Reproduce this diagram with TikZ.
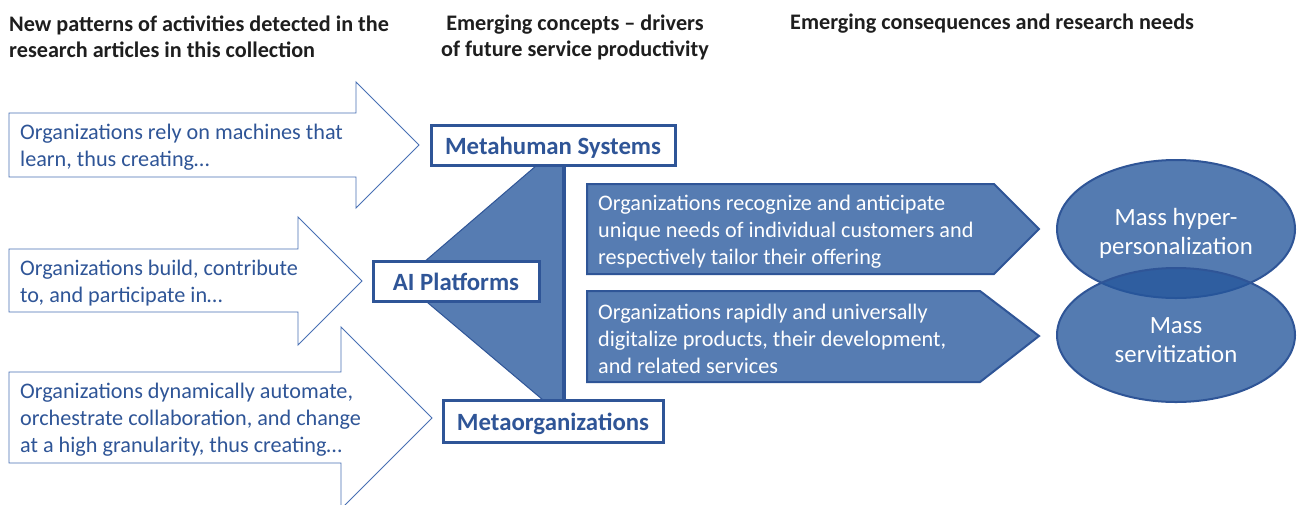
\documentclass[tikz,border=0pt]{standalone}
\usepackage{fontspec}
\setmainfont{Carlito}
\usetikzlibrary{shapes.geometric}
\definecolor{dblue}{RGB}{47,85,151}
\definecolor{lblue}{RGB}{72,112,180}
\definecolor{mblue}{RGB}{86,124,178}
\definecolor{eblue}{RGB}{37,86,156}
\definecolor{headgray}{RGB}{30,30,30}
\tikzset{
  headtxt/.style={font=\fontsize{22.2}{26}\selectfont\bfseries, text=headgray, inner sep=0pt},
  arrowshape/.style={draw=lblue, line width=0.9pt, fill=white},
  arrowtxt/.style={font=\fontsize{22.2}{27}\selectfont, text=dblue, align=left, anchor=west, inner sep=0pt},
  conceptbox/.style={draw=dblue, line width=3pt, fill=white, text=dblue, font=\fontsize{24.8}{28}\selectfont\bfseries, minimum height=40pt, inner sep=0pt, text height=18pt, text depth=0pt},
  blueshape/.style={draw=dblue, line width=2pt, fill=mblue},
  bluetxt/.style={font=\fontsize{22.2}{27}\selectfont, text=white, align=left, anchor=west, inner sep=0pt},
  outcome/.style={ellipse, draw=dblue, line width=2pt, fill=eblue, fill opacity=0.78, minimum width=238pt, inner sep=0pt},
  outcometxt/.style={text=white, font=\fontsize{24.8}{29}\selectfont, align=center, inner sep=0pt},
}
\begin{document}
\begin{tikzpicture}[x=1pt,y=-1pt]
\useasboundingbox (0,0) rectangle (1297,504);
\clip (0,0) rectangle (1297,504);
\fill[white] (0,0) rectangle (1297,504);

% headings
\node[headtxt, anchor=west, align=left] (h1) at (9,37) {New patterns of activities detected in the\\research articles in this collection};
\node[headtxt, align=center] (h2) at (575,37) {Emerging concepts -- drivers\\of future service productivity};
\node[headtxt, anchor=west] (h3) at (790,24) {Emerging consequences and research needs};

% left arrows
\draw[arrowshape] (9,113) -- (356,113) -- (356,82) -- (419,145) -- (356,208) -- (356,177) -- (9,177) -- cycle;
\draw[arrowshape] (9,249) -- (298,249) -- (298,217) -- (362,281) -- (298,345) -- (298,312) -- (9,312) -- cycle;
\draw[arrowshape] (9,372) -- (341,372) -- (341,327) -- (432,418) -- (341,509) -- (341,463) -- (9,463) -- cycle;
\node[arrowtxt] (a1) at (20,147) {Organizations rely on machines that\\learn, thus creating\dots};
\node[arrowtxt] (a2) at (20,283) {Organizations build, contribute\\to, and participate in\dots};
\node[arrowtxt] (a3) at (20,420) {Organizations dynamically automate,\\orchestrate collaboration, and change\\at a high granularity, thus creating\dots};

% central triangle
\filldraw[draw=dblue, line width=1pt, fill=mblue] (537,165) -- (564,165) -- (564,400) -- (543,400) -- (402,281) -- cycle;
\coordinate (vtop) at (564,165);
\coordinate (vbot) at (564,400);
\draw[dblue, line width=4pt] (vtop) -- (vbot);

% concept boxes
\node[conceptbox, minimum width=244pt] (meta) at (553,145) {Metahuman Systems};
\node[conceptbox, minimum width=166pt] (ai) at (456,281) {AI Platforms};
\node[conceptbox, minimum width=220pt, minimum height=42pt] (metaorg) at (553,421) {Metaorganizations};

% blue pentagons
\draw[blueshape] (587,184) -- (994,184) -- (1039,229) -- (994,274) -- (587,274) -- cycle;
\draw[blueshape] (587,291) -- (980,291) -- (1039,336) -- (980,382) -- (587,382) -- cycle;
\node[bluetxt] (p1) at (598,232) {Organizations recognize and anticipate\\unique needs of individual customers and\\respectively tailor their offering};
\node[bluetxt] (p2) at (598,339) {Organizations rapidly and universally\\digitalize products, their development,\\and related services};

% outcome ellipses
\node[outcome, minimum height=138pt] (e1) at (1176,229) {};
\node[outcome, minimum height=134pt] (e2) at (1176,335) {};
\node[outcometxt] (t1) at (1176,233) {Mass hyper-\\personalization};
\node[outcometxt] (t2) at (1176,340) {Mass\\servitization};
\end{tikzpicture}
\end{document}
